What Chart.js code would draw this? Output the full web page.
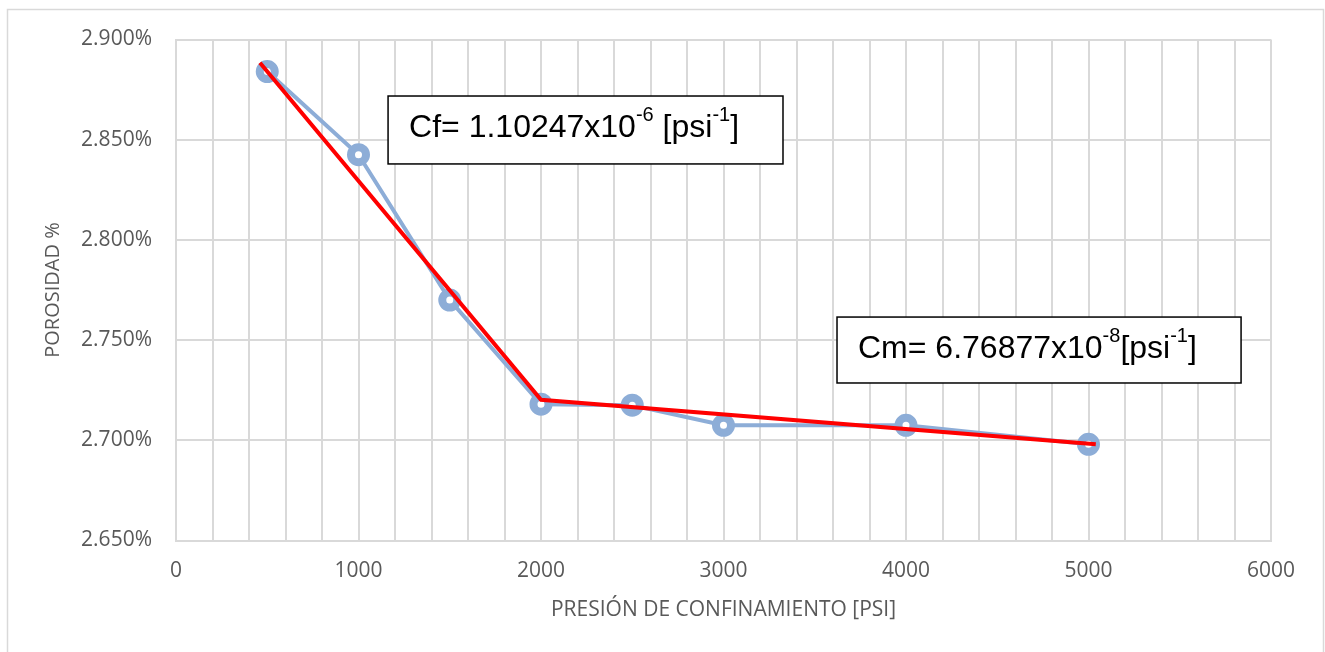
<!DOCTYPE html>
<html>
<head>
<meta charset="utf-8">
<script src="https://cdn.jsdelivr.net/npm/chart.js@4.4.1/dist/chart.umd.min.js"></script>
<style>
  html, body { margin: 0; padding: 0; background: #ffffff; }
  #wrap { width: 1325px; height: 652px; }
</style>
</head>
<body>
<div id="wrap"><canvas id="chart" width="1325" height="652"></canvas></div>
<script>
// Measured porosity vs confining pressure
const pressurePsi = [500, 1000, 1500, 2000, 2500, 3000, 4000, 5000];
const porosityPct = [2.884, 2.8425, 2.770, 2.718, 2.7175, 2.7075, 2.7075, 2.698];

// Two fitted trend segments (red)
const fitPsi = [460, 2000, 5040];
const fitPct = [2.8884, 2.7202, 2.6980];

// Axis ranges
const xMin = 0, xMax = 6000, xStep = 200, xLabelEvery = 1000;
const yMin = 2.65, yMax = 2.9, yStep = 0.05;

// Text boxes (corner positions in data units)
const notes = [
  { x0: 1162, x1: 3326, y0: 2.8718, y1: 2.8379,
    parts: [['Cf= 1.10247x10'], ['-6', true], [' [psi'], ['-1', true], [']']] },
  { x0: 3622, x1: 5836, y0: 2.7615, y1: 2.7286,
    parts: [['Cm= 6.76877x10'], ['-8', true], ['[psi'], ['-1', true], [']']] }
];

const gridGray = '#d9d9d9';
const textGray = '#595959';

// outer frame of the chart area + text boxes
const extras = {
  id: 'extras',
  beforeDraw(chart) {
    const ctx = chart.ctx;
    ctx.save();
    ctx.strokeStyle = gridGray;
    ctx.lineWidth = 1.5;
    ctx.beginPath();
    ctx.moveTo(7.5, 660);
    ctx.lineTo(7.5, 9.5);
    ctx.lineTo(1323.5, 9.5);
    ctx.lineTo(1323.5, 660);
    ctx.stroke();
    ctx.restore();
  },
  afterDraw(chart) {
    const ctx = chart.ctx;
    const xs = chart.scales.x, ys = chart.scales.y;
    ctx.save();
    notes.forEach(n => {
      const l = xs.getPixelForValue(n.x0), r = xs.getPixelForValue(n.x1);
      const t = ys.getPixelForValue(n.y0), b = ys.getPixelForValue(n.y1);
      ctx.fillStyle = '#ffffff';
      ctx.fillRect(l, t, r - l, b - t);
      ctx.strokeStyle = '#000000';
      ctx.lineWidth = 1.5;
      ctx.strokeRect(l, t, r - l, b - t);

      let x = l + 21;
      const base = t + 41;
      ctx.fillStyle = '#000000';
      ctx.textBaseline = 'alphabetic';
      ctx.textAlign = 'left';
      n.parts.forEach(([s, sup]) => {
        ctx.font = sup ? '20px "Liberation Sans", Arial, sans-serif'
                       : '32px "Liberation Sans", Arial, sans-serif';
        ctx.fillText(s, x, sup ? base - 16 : base);
        x += ctx.measureText(s).width;
      });
    });
    ctx.restore();
  }
};

new Chart(document.getElementById('chart'), {
  type: 'line',
  data: {
    datasets: [
      {
        label: 'Porosidad',
        data: pressurePsi.map((p, i) => ({ x: p, y: porosityPct[i] })),
        borderColor: '#8DADD7',
        borderWidth: 4,
        pointRadius: 7.5,
        pointBorderWidth: 8,
        pointBackgroundColor: '#ffffff',
        pointBorderColor: '#8DADD7',
        tension: 0,
        order: 2
      },
      {
        label: 'Ajuste',
        data: fitPsi.map((p, i) => ({ x: p, y: fitPct[i] })),
        borderColor: '#ff0000',
        borderWidth: 4,
        pointRadius: 0,
        tension: 0,
        order: 1
      }
    ]
  },
  options: {
    responsive: false,
    animation: false,
    layout: { padding: { left: 0, top: 39.5, right: 54, bottom: 0 } },
    plugins: {
      legend: { display: false },
      tooltip: { enabled: false }
    },
    scales: {
      x: {
        type: 'linear',
        min: xMin,
        max: xMax,
        afterFit: s => { s.height = 111.5; },
        grid: { color: gridGray, lineWidth: 2, drawTicks: false },
        border: { color: gridGray, width: 2 },
        ticks: {
          stepSize: xStep,
          autoSkip: false,
          maxRotation: 0,
          padding: 18,
          color: textGray,
          font: { family: '"Open Sans", sans-serif', size: 21 },
          callback: v => (v % xLabelEvery === 0 ? String(v) : '')
        },
        title: {
          display: true,
          text: 'PRESIÓN DE CONFINAMIENTO [PSI]',
          color: textGray,
          font: { family: '"Open Sans", sans-serif', size: 21 },
          padding: { top: 0, bottom: 29 }
        }
      },
      y: {
        min: yMin,
        max: yMax,
        afterFit: s => { s.width = 176; },
        grid: { color: gridGray, lineWidth: 2, drawTicks: false },
        border: { color: gridGray, width: 2 },
        ticks: {
          stepSize: yStep,
          padding: 24,
          color: textGray,
          font: { family: '"Open Sans", sans-serif', size: 21 },
          callback: v => v.toFixed(3) + '%'
        },
        title: {
          display: true,
          text: 'POROSIDAD %',
          color: textGray,
          font: { family: '"Open Sans", sans-serif', size: 20 },
          padding: { top: 41, bottom: 0 }
        }
      }
    }
  },
  plugins: [extras]
});
</script>
</body>
</html>
